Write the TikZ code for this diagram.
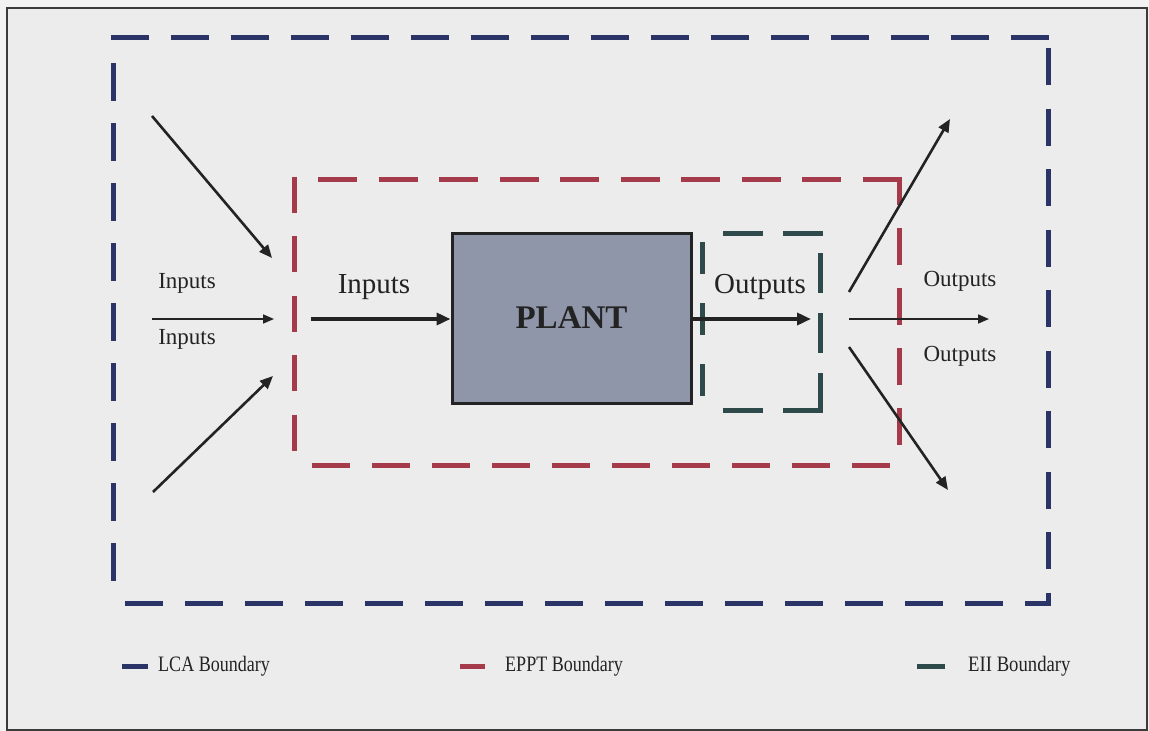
\documentclass[tikz,border=0pt]{standalone}
\usepackage{fontspec}
\setmainfont{Liberation Serif}
\usetikzlibrary{arrows.meta}
\definecolor{lcablue}{HTML}{2B3467}
\definecolor{epptred}{HTML}{A53B4A}
\definecolor{eiiteal}{HTML}{2E4A4B}
\definecolor{plantfill}{HTML}{8F96AA}
\definecolor{paper}{HTML}{ECECEC}
\definecolor{margin}{HTML}{F2F2F2}
\definecolor{ink}{HTML}{232323}
\definecolor{framecol}{HTML}{3A3A3A}
\begin{document}
\begin{tikzpicture}[x=1pt,y=-1pt,
  boundary/.style={line width=5pt},
  flowthick/.style={draw=ink, line width=4pt, -{Triangle[length=14pt,width=12pt]}},
  flowmid/.style={draw=ink, line width=2.6pt, -{Triangle[length=13pt,width=11pt]}},
  flowthin/.style={draw=ink, line width=1.6pt, -{Triangle[length=11pt,width=9pt]}},
  biglabel/.style={font=\fontsize{29}{34}\selectfont, text=ink, inner sep=0pt},
  smalllabel/.style={font=\fontsize{23}{27}\selectfont, text=ink, inner sep=0pt},
  legendtext/.style={font=\fontsize{22}{26}\selectfont, text=ink, inner sep=0pt, anchor=west},
  swatch/.style={line width=5pt}
]
% page and frame
\fill[margin] (0,0) rectangle (1149,731);
\useasboundingbox (0,0) rectangle (1149,731);
\fill[paper] (7,8) rectangle (1147,730);
\draw[framecol, line width=1.6pt] (7,8) rectangle (1147,730);

% LCA boundary, one side at a time so the corners break as drawn
\begin{scope}[boundary, lcablue]
  \draw[dash pattern=on 38pt off 22pt] (113,34.5) -- (113,37) -- (1050.5,37);
  \draw[dash pattern=on 37pt off 23.5pt] (1048,48) -- (1048,605.5);
  \draw[dash pattern=on 38pt off 22pt, dash phase=12pt] (1050.5,603) -- (113,603);
  \draw[dash pattern=on 38pt off 22pt] (113,63) -- (113,598);
\end{scope}

% EPPT boundary
\begin{scope}[boundary, epptred]
  \draw[dash pattern=on 39pt off 21.5pt] (318,179) -- (901.5,179);
  \draw[dash pattern=on 37pt off 23pt, dash phase=8.5pt] (899,176.5) -- (899,465);
  \draw[dash pattern=on 38pt off 22pt] (890,465) -- (294,465);
  \draw[dash pattern=on 36pt off 23.5pt] (294,176.5) -- (294,465);
\end{scope}

% EII boundary
\begin{scope}[boundary, eiiteal]
  \draw[dash pattern=on 40pt off 20pt] (822.5,233) -- (705,233);
  \draw[dash pattern=on 40pt off 20pt] (820,412.5) -- (820,236);
  \draw[dash pattern=on 40pt off 20pt] (822.5,410) -- (705,410);
  \draw[dash pattern=on 32pt off 29pt] (702,242) -- (702,402);
\end{scope}

% plant
\node[draw=ink, line width=3pt, fill=plantfill, minimum width=239pt, minimum height=170pt,
      inner sep=0pt, font=\fontsize{33}{38}\selectfont\bfseries, text=ink] (plant) at (571.5,318) {PLANT};

% arrow end points
\coordinate (inTopS) at (152,116);
\coordinate (inTopE) at (272,258);
\coordinate (inMidS) at (152,319);
\coordinate (inMidE) at (274,319);
\coordinate (inBotS) at (153,492);
\coordinate (inBotE) at (273,376);
\coordinate (mainIn) at (311,319);
\coordinate (mainOut) at (811,319);
\coordinate (outTopS) at (849,292);
\coordinate (outTopE) at (950,119);
\coordinate (outMidS) at (849,319);
\coordinate (outMidE) at (989,319);
\coordinate (outBotS) at (849,347);
\coordinate (outBotE) at (948,490);

% flows
\draw[flowmid] (inTopS) -- (inTopE);
\draw[flowthin] (inMidS) -- (inMidE);
\draw[flowmid] (inBotS) -- (inBotE);
\draw[flowthick] (mainIn) -- (plant.west |- mainIn);
\draw[flowthick] (plant.east |- mainOut) -- (mainOut);
\draw[flowmid] (outTopS) -- (outTopE);
\draw[flowthin] (outMidS) -- (outMidE);
\draw[flowmid] (outBotS) -- (outBotE);

% labels
\node[smalllabel] (lblInA) at (187,283) {Inputs};
\node[smalllabel] (lblInB) at (187,339) {Inputs};
\node[biglabel] (lblInMain) at (374,287) {Inputs};
\node[biglabel] (lblOutMain) at (760,287) {Outputs};
\node[smalllabel] (lblOutA) at (960,281) {Outputs};
\node[smalllabel] (lblOutB) at (960,356) {Outputs};

% legend
\coordinate (swA) at (122,666);
\coordinate (swB) at (460,666);
\coordinate (swC) at (917,666);
\draw[swatch, lcablue] (swA) -- ++(26,0);
\draw[swatch, epptred] (swB) -- ++(25,0);
\draw[swatch, eiiteal] (swC) -- ++(28,0);
\node[legendtext] (legA) at (158,666) {\scalebox{0.82}[1]{LCA Boundary}};
\node[legendtext] (legB) at (505,666) {\scalebox{0.82}[1]{EPPT Boundary}};
\node[legendtext] (legC) at (968,666) {\scalebox{0.85}[1]{EII Boundary}};
\end{tikzpicture}
\end{document}
